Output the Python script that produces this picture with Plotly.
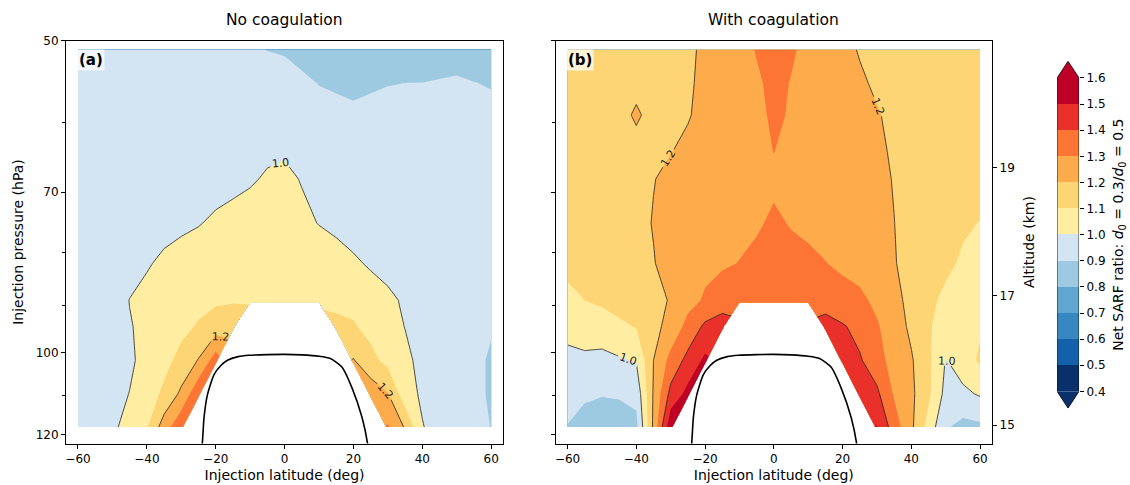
import math
import plotly.graph_objects as go

# ---- grid of injection points -------------------------------------------
lats = [-60, -55, -50, -45, -40, -35, -30, -25, -20, -15, -10, -5, 0,
        5, 10, 15, 20, 25, 30, 35, 40, 45, 50, 55, 60]
pressures = [51, 55, 59, 64, 68, 75, 82, 89, 94.4, 101.7, 109.6, 118]

N = None  # points below the tropopause (no injection)

# net SARF ratio, rows follow `pressures`, columns follow `lats`
ratio_no_coag = [
    [0.93, 0.93, 0.93, 0.93, 0.93, 0.93, 0.925, 0.925, 0.92, 0.92, 0.915, 0.898, 0.89, 0.87, 0.86, 0.86, 0.86, 0.86, 0.86, 0.86, 0.86, 0.86, 0.86, 0.86, 0.86],
    [0.935, 0.935, 0.935, 0.935, 0.935, 0.935, 0.935, 0.935, 0.935, 0.935, 0.935, 0.94, 0.94, 0.918, 0.898, 0.893, 0.888, 0.893, 0.898, 0.9005, 0.901, 0.906, 0.912, 0.902, 0.895],
    [0.94, 0.94, 0.94, 0.94, 0.94, 0.94, 0.94, 0.94, 0.94, 0.94, 0.94, 0.95, 0.96, 0.945, 0.925, 0.915, 0.91, 0.915, 0.92, 0.925, 0.925, 0.93, 0.93, 0.925, 0.92],
    [0.94, 0.94, 0.94, 0.94, 0.945, 0.945, 0.95, 0.955, 0.96, 0.965, 0.975, 0.985, 0.99, 0.975, 0.96, 0.95, 0.945, 0.94, 0.94, 0.935, 0.935, 0.935, 0.935, 0.935, 0.93],
    [0.935, 0.935, 0.94, 0.94, 0.945, 0.95, 0.955, 0.96, 0.965, 0.975, 0.99, 1.01, 1.02, 0.995, 0.975, 0.96, 0.95, 0.945, 0.94, 0.94, 0.935, 0.935, 0.935, 0.935, 0.93],
    [0.93, 0.93, 0.935, 0.94, 0.95, 0.965, 0.98, 0.995, 1.015, 1.03, 1.04, 1.045, 1.04, 1.02, 0.997, 0.98, 0.965, 0.955, 0.95, 0.945, 0.94, 0.94, 0.935, 0.935, 0.93],
    [0.93, 0.935, 0.945, 0.96, 0.99, 1.02, 1.04, 1.05, 1.06, 1.065, 1.07, 1.07, 1.07, 1.06, 1.05, 1.035, 1.012, 0.99, 0.975, 0.965, 0.955, 0.95, 0.945, 0.94, 0.93],
    [0.93, 0.94, 0.955, 1.002, 1.03, 1.045, 1.06, 1.07, 1.085, 1.09, 1.09, 1.09, 1.09, 1.09, 1.09, 1.08, 1.07, 1.04, 1.015, 0.99, 0.97, 0.955, 0.95, 0.93, 0.93],
    [0.93, 0.94, 0.955, 0.995, 1.02, 1.05, 1.075, 1.11, 1.15, 1.17, N, N, N, N, N, 1.12, 1.11, 1.07, 1.035, 0.998, 0.97, 0.955, 0.95, 0.93, 0.91],
    [0.93, 0.94, 0.96, 0.985, 1.03, 1.07, 1.13, 1.205, 1.35, N, N, N, N, N, N, N, 1.205, 1.13, 1.07, 1.02, 0.975, 0.955, 0.95, 0.93, 0.885],
    [0.93, 0.95, 0.97, 1.002, 1.05, 1.12, 1.22, 1.38, N, N, N, N, N, N, N, N, N, 1.26, 1.205, 1.04, 0.985, 0.96, 0.95, 0.93, 0.885],
    [0.93, 0.95, 0.98, 1.04, 1.09, 1.25, 1.38, N, N, N, N, N, N, N, N, N, N, N, 1.31, 1.19, 1.005, 0.96, 0.95, 0.93, 0.898],
]

ratio_coag = [
    [1.15, 1.16, 1.16, 1.17, 1.17, 1.17, 1.18, 1.19, 1.21, 1.24, 1.27, 1.305, 1.33, 1.31, 1.28, 1.25, 1.22, 1.195, 1.18, 1.17, 1.16, 1.16, 1.15, 1.15, 1.15],
    [1.15, 1.16, 1.16, 1.17, 1.18, 1.18, 1.185, 1.193, 1.212, 1.24, 1.26, 1.288, 1.32, 1.297, 1.27, 1.25, 1.23, 1.21, 1.19, 1.18, 1.17, 1.16, 1.16, 1.15, 1.15],
    [1.15, 1.16, 1.165, 1.177, 1.21, 1.177, 1.185, 1.195, 1.22, 1.25, 1.27, 1.285, 1.31, 1.295, 1.27, 1.25, 1.235, 1.22, 1.205, 1.185, 1.17, 1.16, 1.16, 1.15, 1.15],
    [1.14, 1.15, 1.16, 1.165, 1.175, 1.185, 1.198, 1.215, 1.235, 1.25, 1.265, 1.28, 1.301, 1.285, 1.27, 1.26, 1.245, 1.23, 1.215, 1.19, 1.175, 1.16, 1.155, 1.15, 1.14],
    [1.12, 1.13, 1.14, 1.155, 1.17, 1.197, 1.22, 1.235, 1.25, 1.26, 1.27, 1.275, 1.285, 1.28, 1.275, 1.265, 1.255, 1.24, 1.22, 1.196, 1.18, 1.165, 1.155, 1.145, 1.135],
    [1.11, 1.12, 1.13, 1.15, 1.17, 1.205, 1.23, 1.245, 1.26, 1.27, 1.28, 1.29, 1.313, 1.295, 1.285, 1.275, 1.26, 1.245, 1.225, 1.201, 1.17, 1.15, 1.13, 1.11, 1.098],
    [1.11, 1.12, 1.13, 1.15, 1.17, 1.195, 1.24, 1.26, 1.28, 1.29, 1.302, 1.32, 1.33, 1.325, 1.315, 1.302, 1.285, 1.265, 1.24, 1.205, 1.17, 1.14, 1.115, 1.09, 1.07],
    [1.09, 1.10, 1.115, 1.14, 1.16, 1.18, 1.205, 1.27, 1.31, 1.34, 1.36, 1.37, 1.37, 1.37, 1.36, 1.345, 1.33, 1.32, 1.28, 1.22, 1.18, 1.115, 1.085, 1.085, 1.08],
    [1.03, 1.05, 1.06, 1.08, 1.105, 1.17, 1.235, 1.33, 1.42, 1.46, N, N, N, N, N, 1.45, 1.41, 1.37, 1.31, 1.25, 1.18, 1.105, 1.08, 1.07, 1.09],
    [0.975, 0.98, 0.97, 0.99, 1.005, 1.2, 1.33, 1.43, 1.52, N, N, N, N, N, N, N, 1.48, 1.41, 1.34, 1.26, 1.21, 1.12, 0.995, 1.05, 1.115],
    [0.95, 0.92, 0.905, 0.91, 0.93, 1.21, 1.43, 1.53, N, N, N, N, N, N, N, N, N, 1.47, 1.42, 1.29, 1.22, 1.12, 0.97, 0.98, 1.01],
    [0.895, 0.85, 0.85, 0.85, 0.87, 1.22, 1.58, N, N, N, N, N, N, N, N, N, N, N, 1.505, 1.35, 1.22, 1.06, 0.91, 0.87, 0.88],
]

# tropopause (lat, pressure in hPa)
trop_lat = [-24.6, -23.9, -23.4, -22.4, -20.5, -18.5, -16.6, -13.5, -10.3, -5, 0,
            5, 10, 13.3, 16.7, 19.6, 22.5, 24.1, 24.6]
trop_p = [127, 122.4, 115.5, 109.8, 105.0, 102.9, 101.7, 100.9, 100.6, 100.45, 100.4,
          100.5, 100.8, 101.3, 103.3, 108.2, 115.5, 122.4, 127]

# colour levels and band colours
levels = [0.4, 0.5, 0.6, 0.7, 0.8, 0.9, 1.0, 1.1, 1.2, 1.3, 1.4, 1.5, 1.6]
band_colors = ['#08306b', '#1561a9', '#3787c0', '#5fa6d1', '#9ecae1', '#d3e4f3',
               '#ffeda2', '#fed574', '#fdab4b', '#fc7535', '#e9302a', '#bd0026']
line_levels = [1.0, 1.2, 1.4]

# axis ticks
lat_ticks = [-60, -40, -20, 0, 20, 40, 60]
p_ticks = [50, 70, 100, 120]
p_minor = [60, 80, 90, 110]
alt_km = ['15', '17', '19']
alt_p_hpa = [117.5, 88.1, 66.3]

panel_titles = ['No coagulation', 'With coagulation']
panel_tags = ['(a)', '(b)']
cbar_title = 'Net SARF ratio: <i>d</i><sub>0</sub> = 0.3/<i>d</i><sub>0</sub> = 0.5'

FONT = 'DejaVu Sans'
W, H = 1130, 485
P_TOP, P_BOT = 50, 122.4
step = levels[1] - levels[0]

# discrete colour scale laid out the way plotly samples filled bands:
# band k is looked up at (k + 1) / n_levels, below/above range at 0 and 1
nlev = len(levels)
fill_scale = [[0.0, band_colors[0]]]
for i, c in enumerate(band_colors):
    fill_scale.append([(i + 1) / nlev, c])
fill_scale.append([1.0, band_colors[-1]])

fig = go.Figure()

panels = [('x', 'y', 'y', ratio_no_coag), ('x2', 'y2', 'y3', ratio_coag)]
for xa, ya, ytrop, z in panels:
    fig.add_trace(go.Contour(
        x=lats, y=pressures, z=z, xaxis=xa, yaxis=ya,
        autocontour=False,
        contours=dict(start=levels[0], end=levels[-1], size=step,
                      coloring='fill', showlines=False),
        colorscale=fill_scale, line=dict(width=0, smoothing=0),
        showscale=False, connectgaps=False, hoverinfo='skip'))
    fig.add_trace(go.Contour(
        x=lats, y=pressures, z=z, xaxis=xa, yaxis=ya,
        autocontour=False,
        contours=dict(start=line_levels[0], end=line_levels[-1],
                      size=line_levels[1] - line_levels[0],
                      coloring='none', showlabels=True, labelformat='.1f',
                      labelfont=dict(family=FONT, size=11, color='#222')),
        line=dict(color='#222', width=0.8, smoothing=0),
        showscale=False, connectgaps=False, hoverinfo='skip'))
    fig.add_trace(go.Scatter(
        x=trop_lat, y=trop_p, xaxis=xa, yaxis=ytrop, mode='lines',
        line=dict(color='black', width=1.6, shape='spline', smoothing=0.6),
        showlegend=False, hoverinfo='skip'))

# colour bar built from the level list
fig.add_trace(go.Bar(
    x=[0] * len(band_colors), base=levels[:-1],
    y=[levels[i + 1] - levels[i] for i in range(len(band_colors))],
    width=1, marker=dict(color=band_colors, line=dict(width=0)),
    xaxis='x4', yaxis='y4', showlegend=False, hoverinfo='skip'))
ext = 0.0642
lo, hi = levels[0], levels[-1]
fig.add_trace(go.Scatter(x=[-0.5, 0.5, 0, -0.5], y=[hi, hi, hi + ext, hi], fill='toself',
                         fillcolor=band_colors[-1], mode='none', xaxis='x4', yaxis='y4',
                         showlegend=False, hoverinfo='skip'))
fig.add_trace(go.Scatter(x=[-0.5, 0.5, 0, -0.5], y=[lo, lo, lo - ext, lo], fill='toself',
                         fillcolor=band_colors[0], mode='none', xaxis='x4', yaxis='y4',
                         showlegend=False, hoverinfo='skip'))
fig.add_trace(go.Scatter(x=[-0.5, -0.5, 0, 0.5, 0.5, 0, -0.5],
                         y=[lo, hi, hi + ext, hi, lo, lo - ext, lo],
                         mode='lines', line=dict(color='black', width=0.8),
                         xaxis='x4', yaxis='y4', showlegend=False, hoverinfo='skip'))

tickfont = dict(family=FONT, size=12, color='black')
titlefont = dict(family=FONT, size=14, color='black')

ydom = [1 - 443 / H, 1 - 34 / H]
xdoms = [[65 / W, 502.7 / W], [555 / W, 992 / W]]

common_x = dict(range=[-63.5, 63.5], tickmode='array', tickvals=lat_ticks,
                ticks='outside', ticklen=4, tickwidth=1, tickcolor='black',
                showline=True, mirror=True, linecolor='black', linewidth=1,
                showgrid=False, zeroline=False, tickfont=tickfont,
                title=dict(text='Injection latitude (deg)', font=titlefont, standoff=5))
common_y = dict(type='log', range=[math.log10(P_BOT), math.log10(P_TOP)],
                tickmode='array', tickvals=p_ticks, ticktext=[str(v) for v in p_ticks],
                ticks='outside', ticklen=4, tickwidth=1, tickcolor='black',
                minor=dict(tickmode='array', tickvals=p_minor, ticks='outside',
                           ticklen=2.5, tickwidth=0.8, tickcolor='black', showgrid=False),
                showline=True, mirror=True, linecolor='black', linewidth=1,
                showgrid=False, zeroline=False, tickfont=tickfont, domain=ydom)

fig.update_layout(
    width=W, height=H, margin=dict(l=0, r=0, t=0, b=0),
    paper_bgcolor='white', plot_bgcolor='white', showlegend=False,
    font=dict(family=FONT, size=12, color='black'),
    xaxis=dict(common_x, domain=xdoms[0], anchor='y'),
    yaxis=dict(common_y, anchor='x',
               title=dict(text='Injection pressure (hPa)', font=titlefont, standoff=8)),
    xaxis2=dict(common_x, domain=xdoms[1], anchor='y2'),
    yaxis2=dict(common_y, anchor='x2', showticklabels=False),
    yaxis3=dict(type='log', range=[math.log10(P_BOT), math.log10(P_TOP)],
                overlaying='y2', anchor='x2', side='right',
                tickmode='array', tickvals=alt_p_hpa, ticktext=alt_km,
                ticks='outside', ticklen=4, tickwidth=1, tickcolor='black',
                showline=False, showgrid=False, zeroline=False, tickfont=tickfont,
                title=dict(text='Altitude (km)', font=titlefont, standoff=10)),
    xaxis4=dict(domain=[1057 / W, 1079 / W], range=[-0.5, 0.5], visible=False,
                anchor='y4', fixedrange=True),
    yaxis4=dict(domain=[1 - 407 / H, 1 - 55 / H], range=[lo - ext, hi + ext],
                anchor='x4', side='right', tickmode='array', tickvals=levels,
                ticktext=[f'{v:.1f}' for v in levels],
                ticks='outside', ticklen=4, tickwidth=1, tickcolor='black',
                showline=False, showgrid=False, zeroline=False, tickfont=tickfont,
                title=dict(text=cbar_title, font=titlefont, standoff=8)),
    bargap=0,
)

for k in range(2):
    cx = (xdoms[k][0] + xdoms[k][1]) / 2
    fig.add_annotation(x=cx, y=1 - 13 / H, xref='paper', yref='paper',
                       text=panel_titles[k], showarrow=False,
                       font=dict(family=FONT, size=15.5, color='black'),
                       xanchor='center', yanchor='middle')
    xr = 'x domain' if k == 0 else 'x2 domain'
    yr = 'y domain' if k == 0 else 'y2 domain'
    fig.add_annotation(x=0.025, y=0.979, xref=xr, yref=yr, text=f'<b>{panel_tags[k]}</b>',
                       showarrow=False, xanchor='left', yanchor='top',
                       font=dict(family=FONT, size=15, color='black'),
                       bgcolor='rgba(255,255,255,0.7)', borderpad=1)

fig.write_html('out.html')
